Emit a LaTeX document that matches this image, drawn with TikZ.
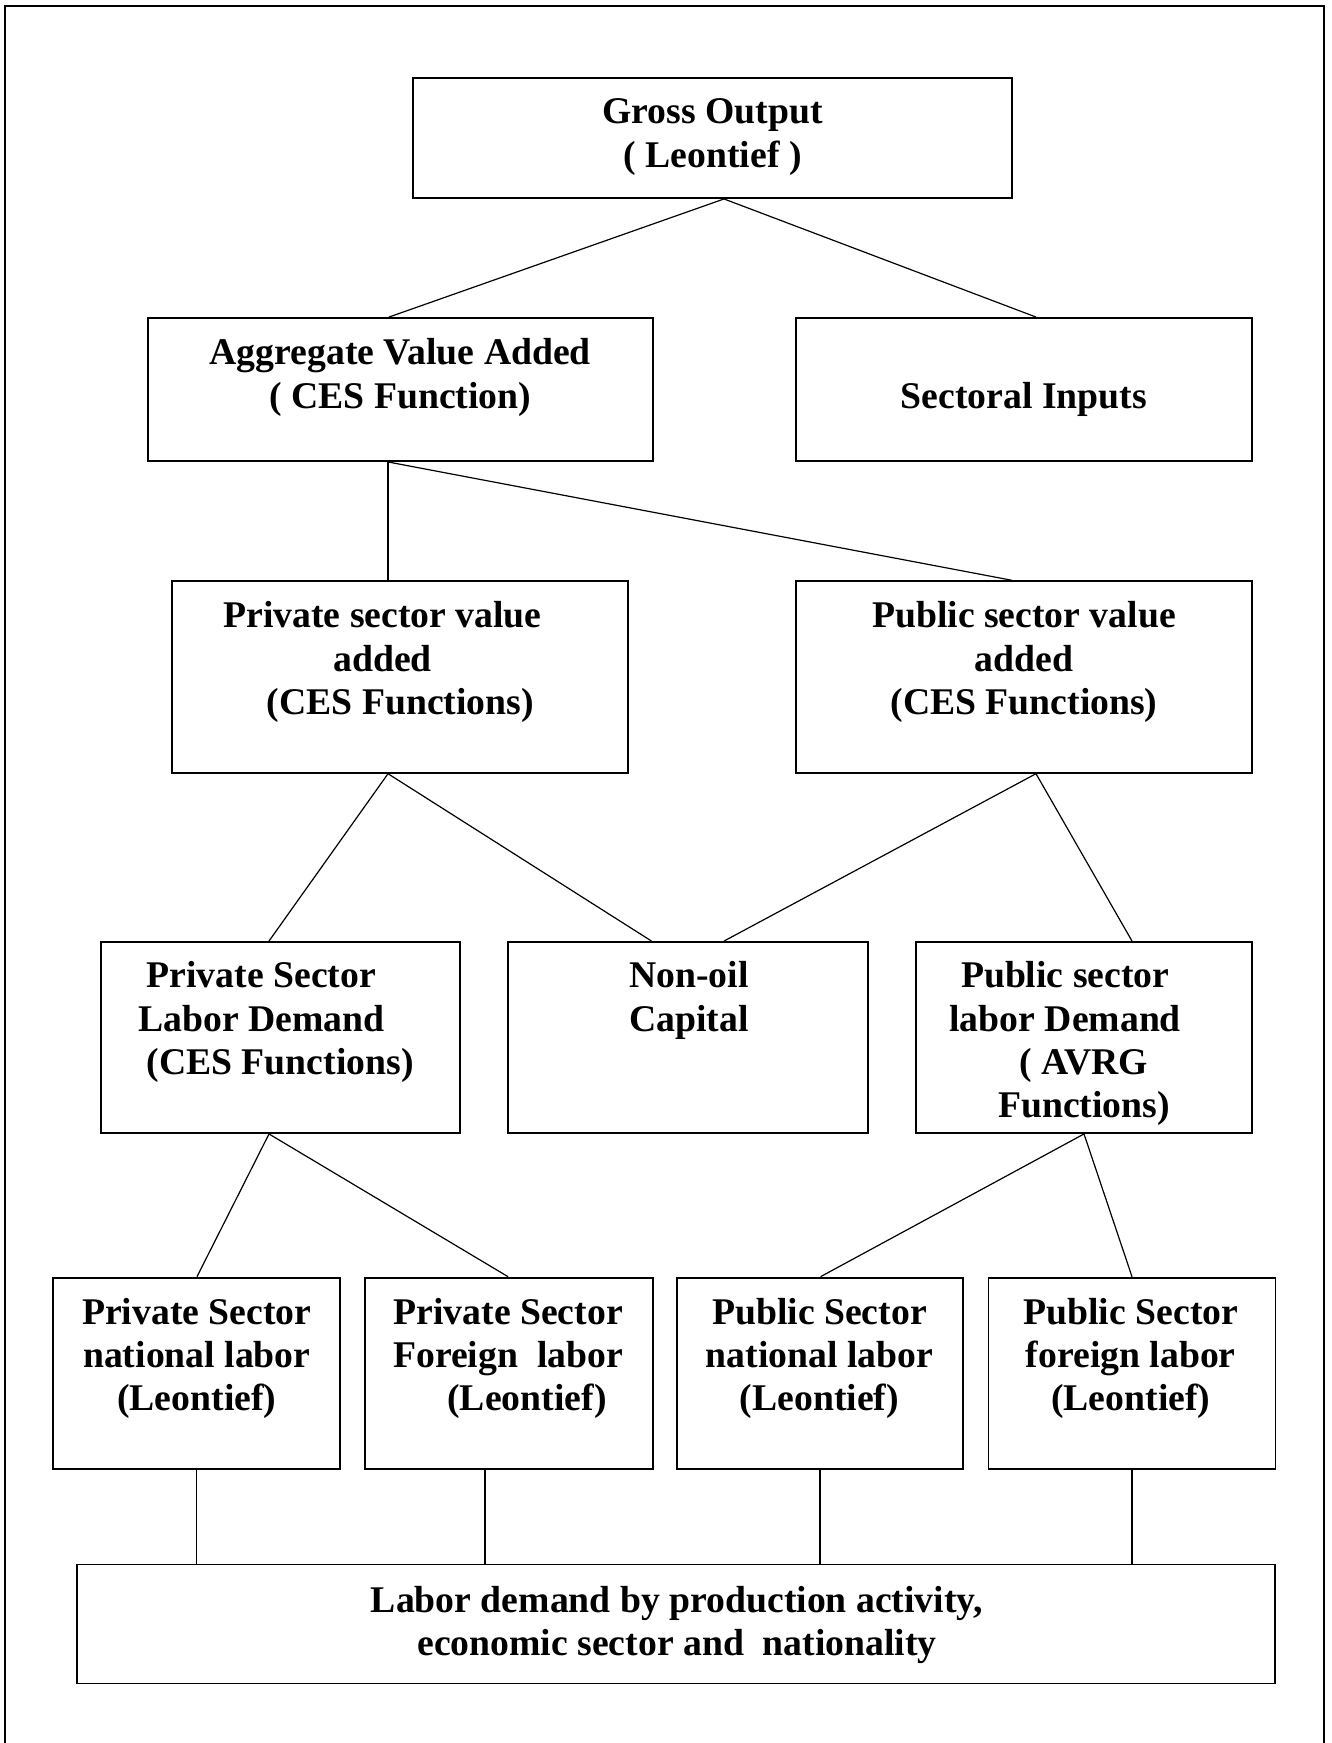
\documentclass[tikz,border=0pt]{standalone}
\usepackage{fontspec}
\setmainfont{Liberation Serif}
\usetikzlibrary{calc}
\begin{document}
\begin{tikzpicture}[x=1pt,y=-1pt,
  box/.style={draw, line width=1.9pt, inner sep=0pt},
  txt/.style={align=center, inner sep=0pt, yshift=-3.5pt, font=\fontsize{37.7}{43.3}\selectfont\bfseries},
  link/.style={line width=1.2pt}]
\useasboundingbox (0,0) rectangle (1332,1743);
\fill[white] (0,0) rectangle (1332,1743);
% outer frame (open at the bottom edge)
\draw[line width=2pt] (5,1743) -- (5,6) -- (1324,6) -- (1324,1743);

% boxes
\node[box, minimum width=599pt, minimum height=120pt] (gross) at (712.5,138) {};
\node[box, minimum width=505pt, minimum height=143pt] (ava) at (400.5,389.5) {};
\node[box, minimum width=456pt, minimum height=143pt] (sect) at (1024,389.5) {};
\node[box, minimum width=456pt, minimum height=191.5pt] (privva) at (400,677) {};
\node[box, minimum width=456pt, minimum height=191.5pt] (pubva) at (1024,677) {};
\node[box, minimum width=359pt, minimum height=191pt] (privld) at (280.5,1037.5) {};
\node[box, minimum width=360pt, minimum height=191pt] (capital) at (688,1037.5) {};
\node[box, minimum width=336pt, minimum height=191pt] (publd) at (1084,1037.5) {};
\node[box, minimum width=287pt, minimum height=191.4pt] (pnat) at (196.5,1373.3) {};
\node[box, minimum width=288pt, minimum height=191.4pt] (pfor) at (509,1373.3) {};
\node[box, minimum width=286pt, minimum height=191.4pt] (gnat) at (820,1373.3) {};
\node[box, minimum width=287pt, minimum height=191.4pt] (gfor) at (1132,1373.3) {};
\node[box, minimum width=1198.6pt, minimum height=119pt] (labor) at (676,1624) {};

% texts
\node[txt] (tgross) at (712.7,133.5) {Gross Output\\( Leontief )};
\node[txt] (tava) at (400.3,374) {Aggregate Value Added\\( CES Function)};
\node[txt] (tsect) at (1024,395.8) {Sectoral Inputs};
\node[txt] (tprivva) at (382.5,658.6) {Private sector value\\added\\\hspace*{35.6pt}(CES Functions)};
\node[txt] (tpubva) at (1024,658.6) {Public sector value\\added\\(CES Functions)};
\node[txt] (tprivld) at (261.3,1018.5) {Private Sector\\Labor Demand\\\hspace*{37.8pt}(CES Functions)};
\node[txt] (tcapital) at (688.8,996.8) {Non-oil\\Capital};
\node[txt] (tpubld) at (1065.2,1040.2) {Public sector\\labor Demand\\\hspace*{37.6pt}( AVRG\\\hspace*{37.6pt}Functions)};
\node[txt] (tpnat) at (196.8,1355) {Private Sector\\national labor\\(Leontief)};
\node[txt] (tpfor) at (508.1,1355) {Private Sector\\Foreign\ \ labor\\\hspace*{37.8pt}(Leontief)};
\node[txt] (tgnat) at (819.5,1355) {Public Sector\\national labor\\(Leontief)};
\node[txt] (tgfor) at (1130.8,1355) {Public Sector\\foreign labor\\(Leontief)};
\node[txt] (tlabor) at (677,1621.7) {Labor demand by production activity,\\economic sector and\ \ nationality};

% connectors
\draw[link] ($(gross.south)+(11.5,0)$) -- ($(ava.north)+(-11.5,0)$);
\draw[link] ($(gross.south)+(11.5,0)$) -- ($(sect.north)+(12,0)$);
\draw[link] ($(ava.south)+(-12.5,0)$) -- ($(privva.north)+(-12,0)$);
\draw[link] ($(ava.south)+(-12.5,0)$) -- ($(pubva.north)+(-12,0)$);
\draw[link] ($(privva.south)+(-12,0)$) -- ($(privld.north)+(-11.5,0)$);
\draw[link] ($(privva.south)+(-12,0)$) -- ($(capital.north)+(-36.5,0)$);
\draw[link] ($(pubva.south)+(12,0)$) -- ($(capital.north)+(36,0)$);
\draw[link] ($(pubva.south)+(12,0)$) -- ($(publd.north)+(48,0)$);
\draw[link] ($(privld.south)+(-11.5,0)$) -- ($(pnat.north)+(0.5,0)$);
\draw[link] ($(privld.south)+(-11.5,0)$) -- ($(pfor.north)+(-1,0)$);
\draw[link] (publd.south) -- ($(gnat.north)+(0.6,0)$);
\draw[link] (publd.south) -- (gfor.north);
\draw[link] (pnat.south) -- (pnat.south |- labor.north);
\draw[link] ($(pfor.south)+(-24,0)$) coordinate (pf) -- (pf |- labor.north);
\draw[link] (gnat.south) -- (gnat.south |- labor.north);
\draw[link] (gfor.south) -- (gfor.south |- labor.north);
\end{tikzpicture}
\end{document}
